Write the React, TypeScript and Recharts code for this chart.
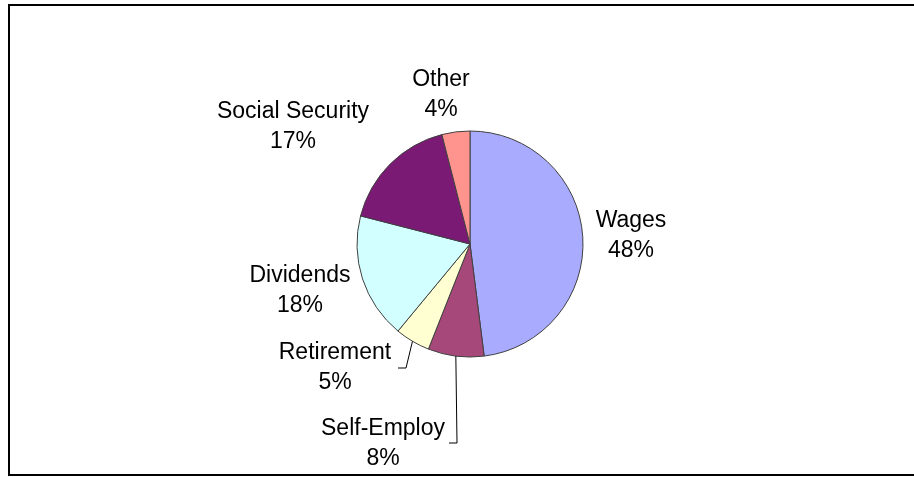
import React from "react";
import { Cell, Pie, PieChart } from "recharts";

const categories = ["Wages", "Self-Employ", "Retirement", "Dividends", "Social Security", "Other"];
const shares = [48, 8, 5, 18, 17, 4];
const colors = ["#A9ABFF", "#A6497A", "#FFFFD2", "#D2FFFF", "#7A1A75", "#FF948E"];

const data = categories.map((name, i) => ({ name, value: shares[i] }));

// label placement relative to pie centre: text centre x, first baseline y
const labelLayout: Record<string, { dx: number; dy: number; leader?: { x: number; y: number } }> = {
  Wages: { dx: 161, dy: -17 },
  "Self-Employ": { dx: -87, dy: 191, leader: { x: -21, y: 199 } },
  Retirement: { dx: -135, dy: 115, leader: { x: -72, y: 124 } },
  Dividends: { dx: -170, dy: 38 },
  "Social Security": { dx: -177, dy: -126 },
  Other: { dx: -29, dy: -158 },
};

const RAD = Math.PI / 180;
const LINE_H = 30;

const renderLabel = (props: any) => {
  const { cx, cy, midAngle, outerRadius, name, percent } = props;
  const lay = labelLayout[name];
  if (!lay) return null;
  const x = cx + lay.dx;
  const y = cy + lay.dy;
  let leader = null;
  if (lay.leader) {
    const ex = cx + outerRadius * Math.cos(-midAngle * RAD);
    const ey = cy + outerRadius * Math.sin(-midAngle * RAD);
    const endX = cx + lay.leader.x;
    const endY = cy + lay.leader.y;
    leader = (
      <polyline
        points={`${ex},${ey} ${endX + 8},${endY} ${endX},${endY}`}
        fill="none"
        stroke="#000"
        strokeWidth={1}
      />
    );
  }
  return (
    <g>
      {leader}
      <text
        x={x}
        y={y}
        textAnchor="middle"
        fill="#000"
        fontSize={23}
        fontFamily="'Liberation Sans', Arial, sans-serif"
      >
        <tspan x={x} y={y}>{name}</tspan>
        <tspan x={x} y={y + LINE_H}>{`${Math.round(percent * 100)}%`}</tspan>
      </text>
    </g>
  );
};

export default function App() {
  return (
    <div style={{ position: "fixed", left: 8, top: 4, width: 906, height: 472, overflow: "hidden" }}>
      <div
        style={{
          position: "absolute",
          left: 0,
          top: 0,
          width: 912,
          height: 472,
          border: "2px solid #000",
          boxSizing: "border-box",
        }}
      />
      <div style={{ position: "absolute", left: 0, top: 0 }}>
        <PieChart width={906} height={472}>
          <Pie
            data={data}
            dataKey="value"
            nameKey="name"
            cx={457}
            cy={235}
            outerRadius={113}
            startAngle={90}
            endAngle={-270}
            stroke="#404040"
            strokeWidth={1}
            label={renderLabel}
            labelLine={false}
            isAnimationActive={false}
          >
            {data.map((d, i) => (
              <Cell key={d.name} fill={colors[i]} />
            ))}
          </Pie>
        </PieChart>
      </div>
    </div>
  );
}
